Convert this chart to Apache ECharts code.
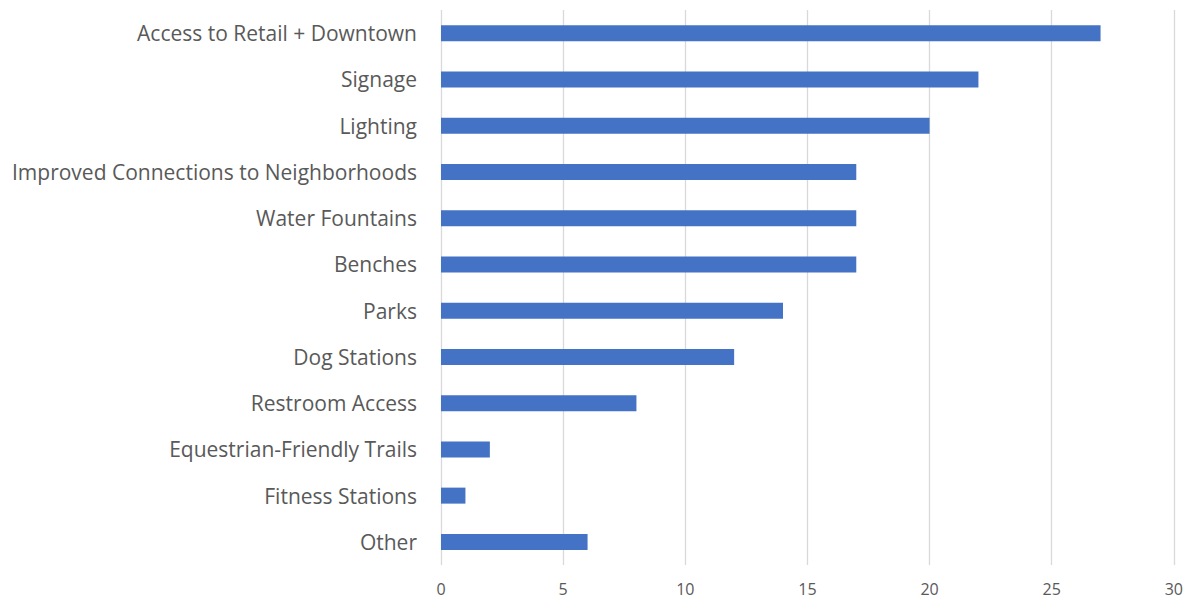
<!DOCTYPE html>
<html>
<head>
<meta charset="utf-8">
<style>
  html, body { margin: 0; padding: 0; background: #fff; }
  #container { width: 1186px; height: 603px; }
</style>
<script src="https://cdn.jsdelivr.net/npm/echarts@6/dist/echarts.min.js"></script>
</head>
<body>
<div id="container"></div>
<script>
var categories = [
  "Access to Retail + Downtown",
  "Signage",
  "Lighting",
  "Improved Connections to Neighborhoods",
  "Water Fountains",
  "Benches",
  "Parks",
  "Dog Stations",
  "Restroom Access",
  "Equestrian-Friendly Trails",
  "Fitness Stations",
  "Other",
];
var counts = [27, 22, 20, 17, 17, 17, 14, 12, 8, 2, 1, 6];
var xTicks = [0, 5, 10, 15, 20, 25, 30];

var dom = document.getElementById("container");
var myChart = echarts.init(dom, null, { renderer: "svg" });

var option = {
  animation: false,
  grid: { left: 441, right: 8, top: 10, bottom: 38, containLabel: false },
  xAxis: {
    type: "value",
    min: xTicks[0],
    max: xTicks[xTicks.length - 1],
    interval: 5,
    axisLine: { show: false },
    axisTick: { show: false },
    axisLabel: {
      color: "#595959",
      fontFamily: "Open Sans",
      fontSize: 16,
      margin: 16,
    },
    splitLine: { show: true, lineStyle: { color: "#d9d9d9", width: 1.3 } },
  },
  yAxis: {
    type: "category",
    inverse: true,
    data: categories,
    axisLine: { show: false },
    axisTick: { show: false },
    axisLabel: {
      color: "#595959",
      fontFamily: "Open Sans",
      fontSize: 21,
      margin: 24,
    },
  },
  series: [
    {
      type: "bar",
      data: counts,
      barWidth: 16,
      itemStyle: { color: "#4472C4" },
    },
  ],
};
myChart.setOption(option);
window.addEventListener("resize", myChart.resize);
</script>
</body>
</html>
